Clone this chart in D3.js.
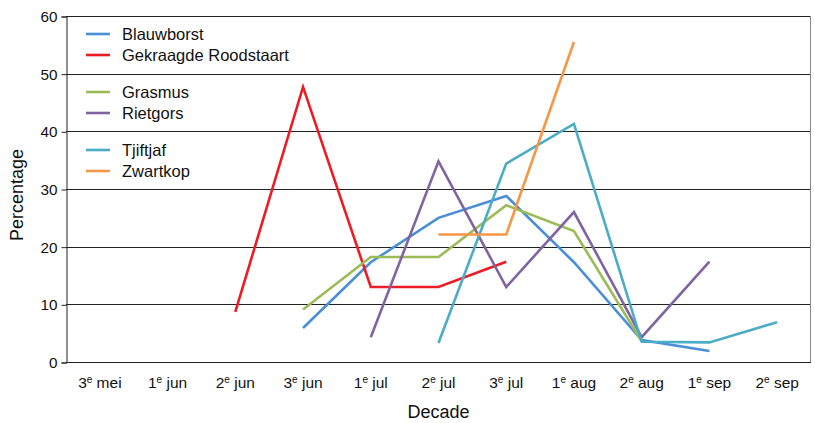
<!DOCTYPE html>
<html><head><meta charset="utf-8">
<script src="https://cdn.jsdelivr.net/npm/d3@7"></script>
<style>body{margin:0;background:#fff}svg{display:block;font-family:"Liberation Sans",Arial,sans-serif}</style>
</head><body>
<script>
const categories = ["3e mei","1e jun","2e jun","3e jun","1e jul","2e jul","3e jul","1e aug","2e aug","1e sep","2e sep"];
const blauwborst = [null,null,null,5.9,17.3,25.0,28.8,17.3,3.8,1.9,null];
const gekraagdeRoodstaart = [null,null,8.7,47.7,13.0,13.0,17.4,null,null,null,null];
const grasmus = [null,null,null,9.1,18.2,18.2,27.2,22.7,3.6,null,null];
const rietgors = [null,null,null,null,4.3,34.8,13.0,26.0,4.3,17.4,null];
const tjiftjaf = [null,null,null,null,null,3.3,34.4,41.3,3.5,3.4,6.9];
const zwartkop = [null,null,null,null,null,22.1,22.1,55.5,null,null,null];
const yTicks = [0,10,20,30,40,50,60];
const seriesNames = ["Blauwborst","Gekraagde Roodstaart","Grasmus","Rietgors","Tjiftjaf","Zwartkop"];
const seriesValues = [blauwborst,gekraagdeRoodstaart,grasmus,rietgors,tjiftjaf,zwartkop];
const colors = ["#4a8fd6","#ed1c24","#9bbb59","#8064a2","#4bacc6","#f79646"];

const W=815,H=423, m={l:66,r:4,t:16,b:61};
const svg=d3.select("body").append("svg").attr("width",W).attr("height",H);
const x=d3.scaleBand().domain(categories).range([m.l,W-m.r]);
const y=d3.scaleLinear().domain([0,60]).range([H-m.b,m.t]);

// gridlines
svg.append("g").selectAll("line").data(yTicks).join("line")
  .attr("x1",m.l).attr("x2",W-m.r).attr("y1",d=>Math.round(y(d))+0.5).attr("y2",d=>Math.round(y(d))+0.5)
  .attr("stroke","#222").attr("stroke-width",1);
// right border
svg.append("line").attr("x1",W-m.r-0.5).attr("x2",W-m.r-0.5).attr("y1",m.t).attr("y2",H-m.b)
  .attr("stroke","#888").attr("stroke-width",1);

// y axis
const ya=svg.append("g").attr("transform",`translate(${m.l+0.5},0.5)`)
  .call(d3.axisLeft(y).tickValues(yTicks).tickSize(5).tickPadding(4));
ya.select(".domain").attr("stroke","#222");
ya.selectAll(".tick line").attr("stroke","#222");
ya.selectAll("text").attr("font-size","15.3px").attr("fill","#111").attr("font-family","Liberation Sans, Arial, sans-serif");

// x axis labels
const xa=svg.append("g").attr("transform",`translate(0,${H-m.b})`)
  .call(d3.axisBottom(x).tickSize(0).tickPadding(14).tickFormat(""));
xa.select(".domain").remove();
xa.selectAll(".tick").each(function(d){
  const t=d3.select(this).append("text").attr("y",26).attr("text-anchor","middle")
    .attr("font-size","15.5px").attr("fill","#111").attr("font-family","Liberation Sans, Arial, sans-serif");
  const num=d.slice(0,1), rest=d.slice(2);
  t.append("tspan").text(num);
  t.append("tspan").text("e").attr("font-size","10px").attr("dy","-5");
  t.append("tspan").text(" "+rest).attr("dy","5");
});

// axis titles
svg.append("text").attr("x",(m.l+W-m.r)/2).attr("y",418).attr("text-anchor","middle")
  .attr("font-size","18px").attr("fill","#111").text("Decade");
svg.append("text").attr("transform",`translate(23,${(m.t+H-m.b)/2+6}) rotate(-90)`).attr("text-anchor","middle")
  .attr("font-size","18px").attr("fill","#111").text("Percentage");

// lines
const line=d3.line().defined(d=>d.v!=null).x(d=>x(d.c)+x.bandwidth()/2).y(d=>y(d.v));
seriesValues.forEach((vals,i)=>{
  svg.append("path").datum(vals.map((v,j)=>({c:categories[j],v})))
    .attr("d",line).attr("fill","none").attr("stroke",colors[i]).attr("stroke-width",2.6)
    .attr("stroke-linejoin","miter");
});

// legend
const legY=[34,55,92,113,150,171];
const leg=svg.append("g");
seriesNames.forEach((n,i)=>{
  leg.append("line").attr("x1",86).attr("x2",110).attr("y1",legY[i]).attr("y2",legY[i])
    .attr("stroke",colors[i]).attr("stroke-width",2.6);
  leg.append("text").attr("x",122).attr("y",legY[i]+5.5).attr("font-size","16.5px").attr("fill","#111").text(n);
});
</script>
</body></html>
